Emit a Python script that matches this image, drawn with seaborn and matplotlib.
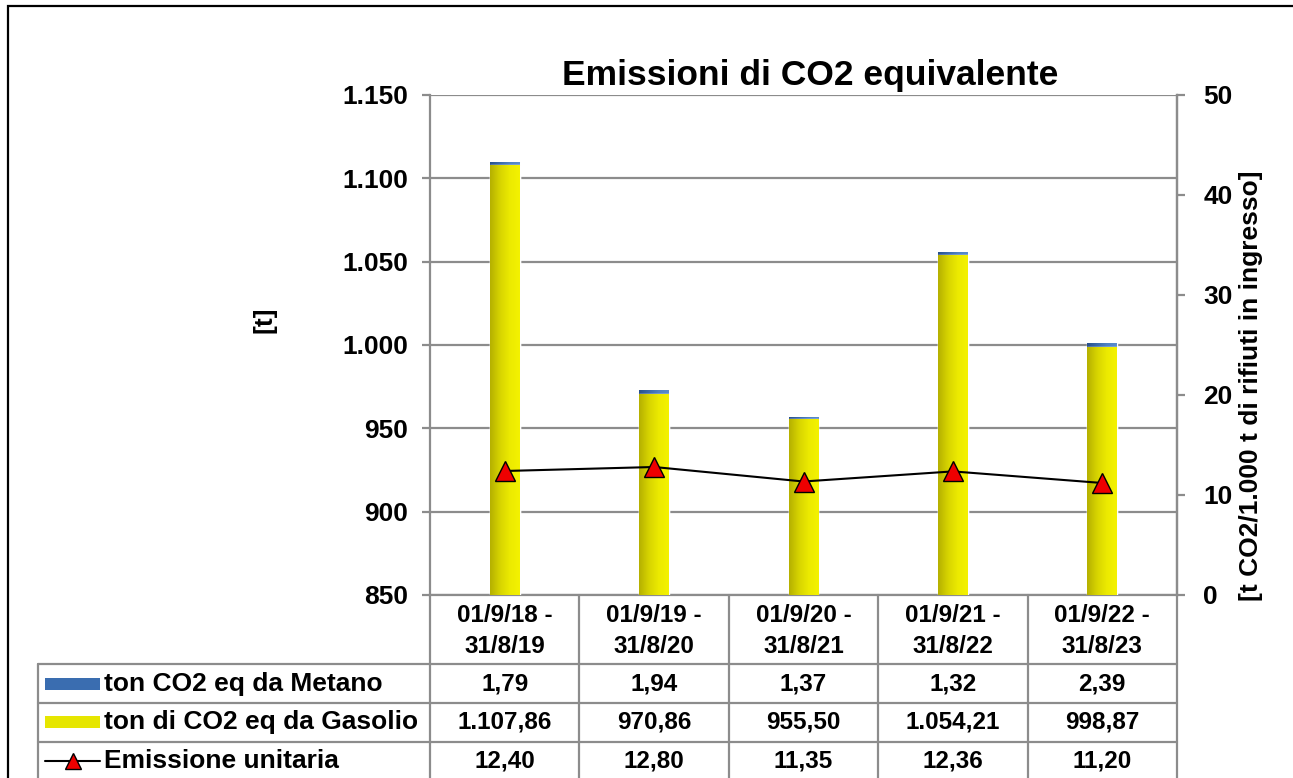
import numpy as np
import pandas as pd
import matplotlib
matplotlib.use("Agg")
import matplotlib.pyplot as plt
import matplotlib.transforms as mtransforms
from matplotlib.lines import Line2D
from matplotlib.patches import Rectangle
from matplotlib.ticker import FixedLocator, FuncFormatter
import seaborn as sns

# ---------------- data ----------------
periods = ["01/9/18 -\n31/8/19", "01/9/19 -\n31/8/20", "01/9/20 -\n31/8/21",
           "01/9/21 -\n31/8/22", "01/9/22 -\n31/8/23"]
metano = [1.79, 1.94, 1.37, 1.32, 2.39]
gasolio = [1107.86, 970.86, 955.50, 1054.21, 998.87]
unitaria = [12.40, 12.80, 11.35, 12.36, 11.20]
series_names = ["ton CO2 eq da Metano", "ton di CO2 eq da Gasolio", "Emissione unitaria"]
left_ticks = [850, 900, 950, 1000, 1050, 1100, 1150]
right_ticks = [0, 10, 20, 30, 40, 50]
title = "Emissioni di CO2 equivalente"
left_label = "[t]"
right_label = "[t CO2/1.000 t di rifiuti in ingresso]"

# ---------------- style ----------------
sns.set_theme(style="white")
plt.rcParams['font.family'] = ['Liberation Sans', 'DejaVu Sans']
plt.rcParams['font.weight'] = 'bold'
plt.rcParams['text.color'] = 'black'

W, H = 1293, 778
GRAY = '#8c8c8c'
YMIN, YMAX = 850, 1150
def fx(x): return x / W
def fy(y): return 1 - y / H

def it_fmt(v, dec=2):
    s = f"{v:,.{dec}f}"
    return s.replace(",", "X").replace(".", ",").replace("X", ".")

fig = plt.figure(figsize=(W / 100, H / 100), dpi=100)
ax = fig.add_axes([fx(430), fy(595), fx(1177) - fx(430), (595 - 95) / H])

df = pd.DataFrame({"period": periods, "metano": metano, "gasolio": gasolio,
                   "totale": np.array(metano) + np.array(gasolio)})

sns.barplot(data=df, x="period", y="totale", color="#3a6db0", width=0.2,
            saturation=1, ax=ax, zorder=2)
sns.barplot(data=df, x="period", y="gasolio", color="#e6e600", width=0.2,
            saturation=1, ax=ax, zorder=3)

ax.set_ylim(YMIN, YMAX)
ax.set_xlim(-0.5, 4.5)

# gradients on bars
n = len(periods)
yel = np.array([[181, 176, 0], [215, 212, 0], [236, 234, 0], [244, 242, 0]]) / 255
blu = np.array([[40, 80, 140], [58, 105, 170], [80, 130, 195], [90, 140, 205]]) / 255
def grad(cols, steps=64):
    t = np.linspace(0, 1, steps)
    ks = np.linspace(0, 1, len(cols))
    out = np.stack([np.interp(t, ks, cols[:, c]) for c in range(3)], axis=1)
    return out[None, :, :]
for i, p in enumerate(list(ax.patches)):
    x0, w = p.get_x(), p.get_width()
    y0, h = p.get_y(), p.get_height()
    ybot = max(y0, YMIN)
    img = grad(blu if i < n else yel)
    im = ax.imshow(img, extent=[x0, x0 + w, ybot, y0 + h], aspect='auto',
                   zorder=p.get_zorder() + 0.1, interpolation='bilinear')
    im.set_clip_path(p)
ax.set_ylim(YMIN, YMAX)
ax.set_xlim(-0.5, 4.5)

ax.yaxis.set_major_locator(FixedLocator(left_ticks))
ax.yaxis.set_major_formatter(FuncFormatter(lambda v, pos: it_fmt(v, 0)))
ax.grid(axis='y', color=GRAY, lw=1.6)
ax.set_axisbelow(True)
ax.set_xlabel("")
ax.set_ylabel("")
ax.set_xticks([])
ax.spines['top'].set_visible(False)
for s in ['left', 'right', 'bottom']:
    ax.spines[s].set_color(GRAY)
    ax.spines[s].set_linewidth(1.6)
ax.tick_params(axis='y', which='major', left=True, length=6, width=1.6,
               color=GRAY, pad=10, labelsize=19, labelcolor='black')

# secondary axis
ax2 = ax.twinx()
sns.lineplot(x=np.arange(n), y=unitaria, ax=ax2, color='black', lw=1.5,
             marker='^', markersize=14, markerfacecolor='#ee0000',
             markeredgecolor='black', markeredgewidth=1.0, zorder=5)
ax2.set_ylim(0, 50)
ax2.set_xlim(-0.5, 4.5)
ax2.yaxis.set_major_locator(FixedLocator(right_ticks))
ax2.grid(False)
for s in ['top', 'left', 'bottom']:
    ax2.spines[s].set_visible(False)
ax2.spines['right'].set_color(GRAY)
ax2.spines['right'].set_linewidth(1.6)
ax2.tick_params(axis='y', right=True, length=6, width=1.6, color=GRAY,
                pad=13, labelsize=19, labelcolor='black')

# titles
fig.text(fx(810), fy(76), title, ha='center', va='center', fontsize=25.5,
         fontweight='bold', color='black')
fig.text(fx(265), fy(320), left_label, ha='center', va='center', fontsize=19,
         rotation=90, fontweight='bold', color='black')
fig.text(fx(1251), fy(386), right_label, ha='center', va='center', fontsize=19,
         rotation=90, fontweight='bold', color='black')

# outer border
fig.add_artist(Rectangle((fx(8), -0.1), 2, fy(6) + 0.1, transform=fig.transFigure,
                         fill=False, edgecolor='black', lw=1.6))

# data table
bt = mtransforms.blended_transform_factory(ax.transData, fig.transFigure)
def hline(x0, x1, y):
    fig.add_artist(Line2D([fx(x0), fx(x1)], [fy(y), fy(y)],
                          transform=fig.transFigure, color=GRAY, lw=1.6))
col_edges = np.arange(n + 1) - 0.5
for xe in col_edges:
    fig.add_artist(Line2D([xe, xe], [fy(595), fy(800)], transform=bt,
                          color=GRAY, lw=1.6))
fig.add_artist(Line2D([fx(38), fx(38)], [fy(664), fy(800)],
                      transform=fig.transFigure, color=GRAY, lw=1.6))
for yl in [664, 703, 742]:
    hline(38, 1177, yl)

for i, lab in enumerate(periods):
    fig.text(i, fy(631), lab, transform=bt, ha='center', va='center',
             fontsize=17.5, fontweight='bold', linespacing=1.45, color='black')

row_y = [684, 722, 761]
row_vals = [metano, gasolio, unitaria]
for r, (yy, vals, name) in enumerate(zip(row_y, row_vals, series_names)):
    fig.text(fx(104), fy(yy), name, ha='left', va='center', fontsize=19,
             fontweight='bold', color='black')
    for i, v in enumerate(vals):
        fig.text(i, fy(yy), it_fmt(v), transform=bt, ha='center', va='center',
                 fontsize=17.5, fontweight='bold', color='black')

# legend keys
fig.add_artist(Rectangle((fx(45), fy(690)), fx(100) - fx(45), 12 / H,
                         transform=fig.transFigure, facecolor='#3a6db0',
                         edgecolor='none'))
fig.add_artist(Rectangle((fx(45), fy(728)), fx(100) - fx(45), 12 / H,
                         transform=fig.transFigure, facecolor='#e6e600',
                         edgecolor='none'))
fig.add_artist(Line2D([fx(45), fx(100)], [fy(761), fy(761)],
                      transform=fig.transFigure, color='black', lw=1.5))
fig.add_artist(Line2D([fx(72.5)], [fy(761)], transform=fig.transFigure,
                      marker='^', markersize=12, markerfacecolor='#ee0000',
                      markeredgecolor='black', markeredgewidth=1.0, lw=0))

fig.savefig("out.png", dpi=100, facecolor='white')
